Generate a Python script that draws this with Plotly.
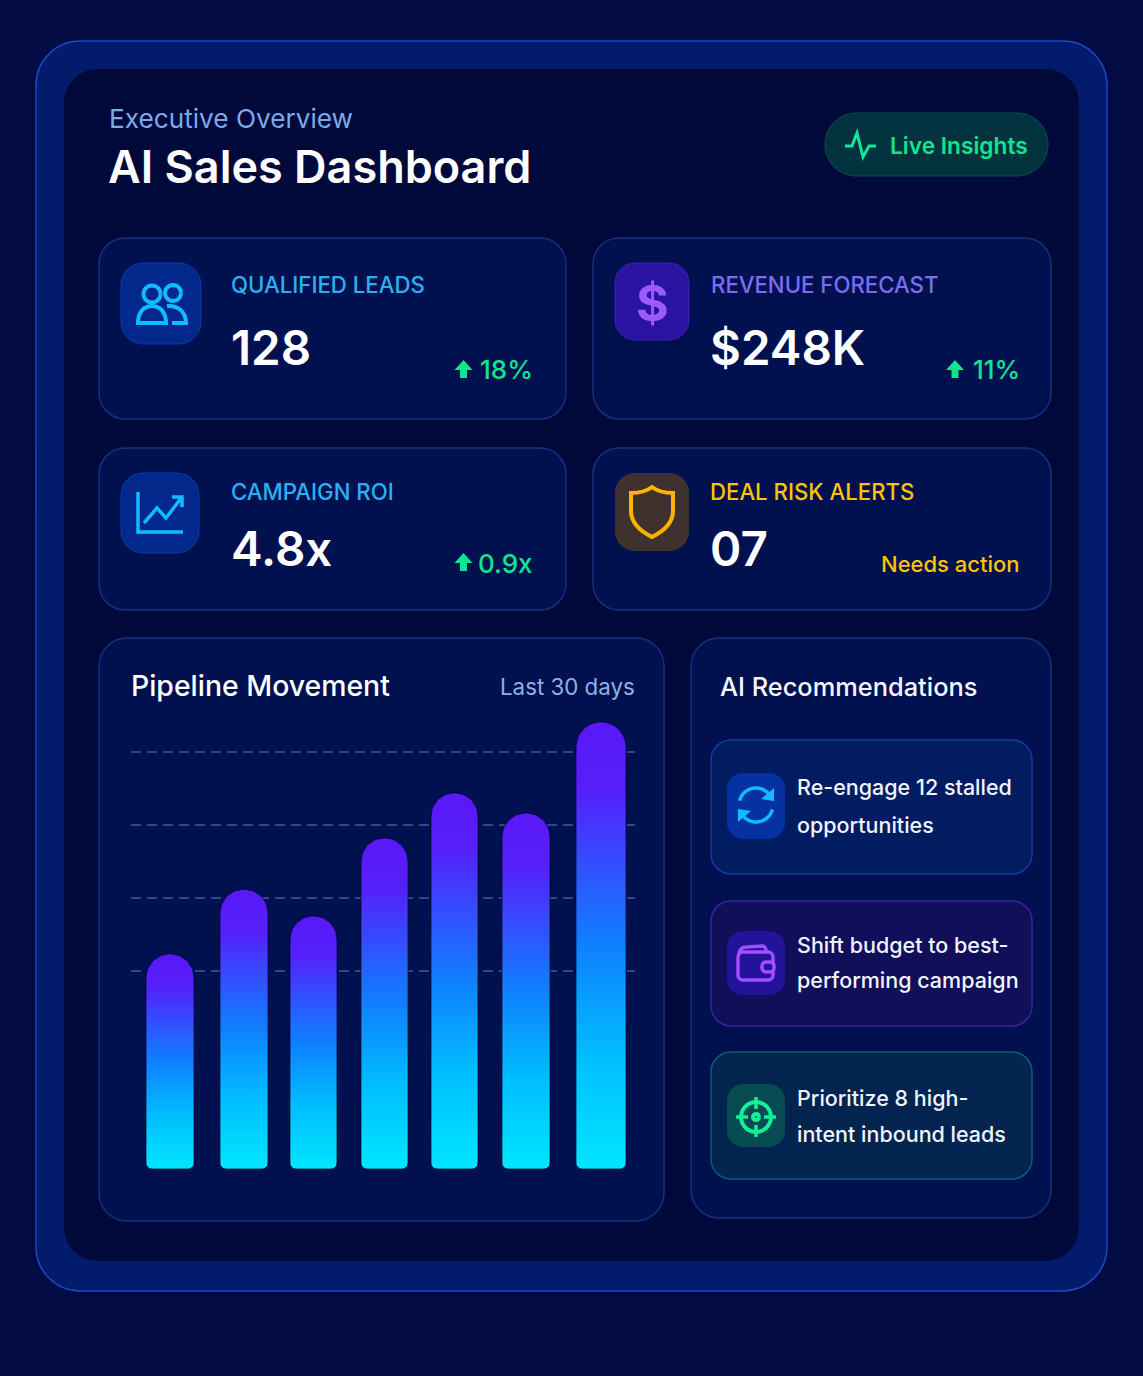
import numpy as np
import plotly.graph_objects as go

W, H = 1143, 1376
FONT = "Inter"

# Chart values
bar_values = [51.6, 67.1, 60.7, 79.4, 90.2, 85.4, 107.2]
grid_values = [100, 82.5, 65, 47.5]
bar_centers = [170, 244, 313.5, 384.5, 454.5, 526, 601]
bar_widths = [48, 48, 47, 47, 47, 48, 50]

# KPI cards
kpi_labels = ["QUALIFIED LEADS", "REVENUE FORECAST", "CAMPAIGN ROI", "DEAL RISK ALERTS"]
kpi_values = ["128", "$248K", "4.8x", "07"]
kpi_deltas = ["18%", "11%", "0.9x", "Needs action"]
kpi_colors = ["#2AB0F2", "#7C6CF2", "#2AB0F2", "#FFC400"]

# Recommendations, one entry per line of text
reco_lines = [
    ["Re-engage 12 stalled", "opportunities"],
    ["Shift budget to best-", "performing campaign"],
    ["Prioritize 8 high-", "intent inbound leads"],
]

PAGE = "#020B43"
FRAME = "#021B6A"
INNER = "#01083A"
CARD = "#01104E"
CARD_LINE = "#14307E"
GREEN = "#0FE48E"
CYAN = "#12BAFF"
PURPLE = "#A24DFF"
BAR_SCALE = [
    [0.0, "#00E6FF"], [0.25, "#00BEFF"], [0.5, "#0F80FF"],
    [0.65, "#2C58FF"], [0.85, "#5520FA"], [1.0, "#5A18F8"],
]

shapes = []
annotations = []


def rrect(x0, y0, x1, y1, r):
    k = r * 0.45
    return (f"M{x0+r},{y0} L{x1-r},{y0} C{x1-k},{y0} {x1},{y0+k} {x1},{y0+r} "
            f"L{x1},{y1-r} C{x1},{y1-k} {x1-k},{y1} {x1-r},{y1} "
            f"L{x0+r},{y1} C{x0+k},{y1} {x0},{y1-k} {x0},{y1-r} "
            f"L{x0},{y0+r} C{x0},{y0+k} {x0+k},{y0} {x0+r},{y0} Z")


def arc(cx, cy, r, a0, a1, n=24):
    t = np.radians(np.linspace(a0, a1, n))
    pts = [f"{cx + r*np.cos(a):.2f},{cy + r*np.sin(a):.2f}" for a in t]
    return "M" + " L".join(pts)


def add_path(path, fill=None, line=None, width=0):
    shapes.append(dict(
        type="path", path=path, xref="x", yref="y", layer="below",
        fillcolor=fill or "rgba(0,0,0,0)",
        line=dict(color=line or "rgba(0,0,0,0)", width=width),
    ))


def box(x0, y0, x1, y1, r, fill, line=None, width=1.5):
    add_path(rrect(x0, y0, x1, y1, r), fill, line, width)


def text(x, y, s, size, color, weight=400, anchor="left"):
    annotations.append(dict(
        x=x, y=y, xref="x", yref="y", text=s, showarrow=False,
        xanchor=anchor, yanchor="middle", borderpad=0,
        font=dict(family=FONT, size=size, color=color, weight=weight),
    ))


def up_arrow(cx, y0):
    add_path(f"M{cx},{y0} L{cx+9},{y0+10} L{cx+3.5},{y0+10} L{cx+3.5},{y0+18} "
             f"L{cx-3.5},{y0+18} L{cx-3.5},{y0+10} L{cx-9},{y0+10} Z", GREEN)


# Frame and panels
box(36, 41, 1107, 1291, 44, FRAME, "#1A48C4", 1.5)
box(64, 69, 1079, 1261, 34, INNER)
box(825, 113, 1048, 176, 31, "#03323F", "#04504F", 1)
add_path("M845,146 L852,146 L857,133 L863,157 L869,146 L876,146", None, "#10E89A", 3)

card_boxes = [(99, 238, 566, 419), (593, 238, 1051, 419), (99, 448, 566, 610), (593, 448, 1051, 610)]
for x0, y0, x1, y1 in card_boxes:
    box(x0, y0, x1, y1, 26, CARD, CARD_LINE)
box(99, 638, 664, 1221, 28, CARD, CARD_LINE)
box(691, 638, 1051, 1218, 28, CARD, CARD_LINE)

# Recommendation rows
box(711, 740, 1032, 874, 20, "#021C62", "#0F3D99")
box(711, 901, 1032, 1026, 20, "#120F5A", "#36249A")
box(711, 1052, 1032, 1179, 20, "#02244F", "#085F6E")

# Icon tiles
box(121, 263, 201, 344, 22, "#03288C", "#0A3AA8", 1)
box(615, 263, 689, 340, 20, "#2A13A0", "#3A22B0", 1)
box(121, 473, 199, 553, 22, "#03288C", "#0A3AA8", 1)
box(615, 473, 689, 551, 20, "#3F322E")
box(727, 773, 785, 839, 16, "#0531A2")
box(727, 931, 785, 995, 16, "#22139A")
box(727, 1084, 785, 1147, 16, "#064A52")

# People icon
add_path(arc(152, 294, 8.5, 0, 360), None, CYAN, 4)
add_path(arc(173, 293, 8, 0, 360), None, CYAN, 4)
add_path("M138,323 C138,312 144,306 152,306 C160,306 166,312 166,323 Z", None, CYAN, 4)
add_path("M167,306 C178,305 186,312 186,323 L172,323", None, CYAN, 4)

# Trend icon
add_path("M138,492 L138,532 L183,532", None, CYAN, 3.5)
add_path("M144,523 L157,508 L166,518 L182,497", None, CYAN, 3.5)
add_path("M172,497 L182,497 L182,507", None, CYAN, 3.5)

# Shield icon
add_path("M652,487 C647,491 640,493 631,493 L631,511 C631,522 640,531 652,537 "
         "C664,531 673,522 673,511 L673,493 C664,493 657,491 652,487 Z", None, "#FFB300", 4)

# Refresh icon
add_path(arc(756, 805, 17, 195, 325), None, CYAN, 3.5)
add_path(arc(756, 805, 17, 15, 145), None, CYAN, 3.5)
add_path("M774,788 L774,801 L761,799 Z", CYAN)
add_path("M738,822 L738,809 L751,811 Z", CYAN)

# Wallet icon
box(738, 952, 773, 980, 5, None, PURPLE, 3.5)
add_path("M739,955 C739,949 742,947 747,947 L762,946 C765,946 766,948 766,952", None, PURPLE, 3.5)
box(762, 962, 774, 972, 4, "#22139A", PURPLE, 3.5)

# Target icon
TARGET = "#12F098"
add_path(arc(756, 1117, 15, 0, 360), None, TARGET, 4)
add_path(arc(756, 1117, 3, 0, 360), None, TARGET, 4)
for seg in ["M736,1117 L748,1117", "M764,1117 L776,1117", "M756,1097 L756,1109", "M756,1125 L756,1137"]:
    add_path(seg, None, TARGET, 3.5)

# Header text
text(107.5, 118, "Executive Overview", 26.2, "#7BAAEA")
text(107, 166.5, "AI Sales Dashboard", 45, "#FFFFFF", 600)
text(889, 145, "Live Insights", 22.7, GREEN, 600)

# KPI text
label_x = [230, 709.5, 230, 709]
label_y = [284.5, 284.5, 491.5, 491.5]
value_x = [230, 708.5, 230, 708.5]
value_y = [347.5, 347.5, 548.5, 548.5]
delta_r = [534, 1021, 534, 1020.5]
delta_y = [369, 369, 563, 563.5]
for i in range(4):
    text(label_x[i], label_y[i], kpi_labels[i], 22.2, kpi_colors[i], 500)
    text(value_x[i], value_y[i], kpi_values[i], 47.5, "#FFFFFF", 600)
    delta_color = "#FFC400" if i == 3 else GREEN
    delta_size = 22 if i == 3 else 26
    text(delta_r[i], delta_y[i], kpi_deltas[i], delta_size, delta_color, 500, "right")
up_arrow(463.5, 360)
up_arrow(955, 360)
up_arrow(463.5, 553)
text(652, 303, "$", 50, "#9B59FF", 700, "center")

# Panel text
text(130, 685.5, "Pipeline Movement", 28.4, "#FFFFFF", 500)
text(635.5, 686.5, "Last 30 days", 22.3, "#8FB0E6", 400, "right")
text(719, 686.5, "AI Recommendations", 25.4, "#F4F7FF", 500)
reco_y = [(786.5, 824.5), (944.5, 979.5), (1097.5, 1133.5)]
for lines, ys in zip(reco_lines, reco_y):
    for line, y in zip(lines, ys):
        text(796, y, line, 21.5, "#F0F4FF", 500)

fig = go.Figure()

# Chart axis setup: y pixels per value unit set by the panel area
chart_top, chart_base = 710, 1169
px_per_unit = 4.17


def bar_outline(center, width, value):
    # rounded cap on top, small rounded feet at the base
    r = width / 2
    r_y = r / px_per_unit
    foot = 6.0
    foot_y = foot / px_per_unit
    t = np.radians(np.linspace(180, 0, 32))
    f = np.radians(np.linspace(0, 90, 8))
    xs = list(center - r + foot - foot * np.cos(f))[::-1]
    ys = list(foot_y - foot_y * np.sin(f))[::-1]
    xs += list(center + r * np.cos(t))
    ys += list(value - r_y + r_y * np.sin(t))
    xs += list(center + r - foot + foot * np.cos(f))
    ys += list(foot_y - foot_y * np.sin(f))
    xs.append(xs[0])
    ys.append(ys[0])
    return xs, ys


for c, w, v in zip(bar_centers, bar_widths, bar_values):
    xs, ys = bar_outline(c, w, v)
    fig.add_trace(go.Scatter(
        x=xs, y=ys, xaxis="x2", yaxis="y2", mode="lines", fill="toself",
        line=dict(width=1, color="rgba(0,4,45,0.7)"), hoverinfo="skip", showlegend=False,
        fillgradient=dict(type="vertical", colorscale=BAR_SCALE),
    ))

fig.update_layout(
    width=W, height=H, autosize=False,
    margin=dict(l=0, r=0, t=0, b=0),
    paper_bgcolor=PAGE, plot_bgcolor="rgba(0,0,0,0)",
    showlegend=False,
    shapes=shapes, annotations=annotations,
    xaxis=dict(domain=[0, 1], range=[0, W], visible=False, fixedrange=True),
    yaxis=dict(domain=[0, 1], range=[H, 0], visible=False, fixedrange=True),
    xaxis2=dict(domain=[131 / W, 635 / W], range=[131, 635], anchor="y2", visible=False, fixedrange=True),
    yaxis2=dict(
        domain=[1 - chart_base / H, 1 - chart_top / H],
        range=[0, (chart_base - chart_top) / px_per_unit],
        anchor="x2", fixedrange=True, showline=False, zeroline=False, showticklabels=False,
        ticks="", tickvals=grid_values, showgrid=True,
        gridcolor="#2D4592", gridwidth=1.8, griddash="10px,6px",
    ),
)

fig.write_html(
    "out.html",
    config={"displayModeBar": False},
    post_script="document.body.style.margin='0';document.body.style.background='#020B43';",
)
